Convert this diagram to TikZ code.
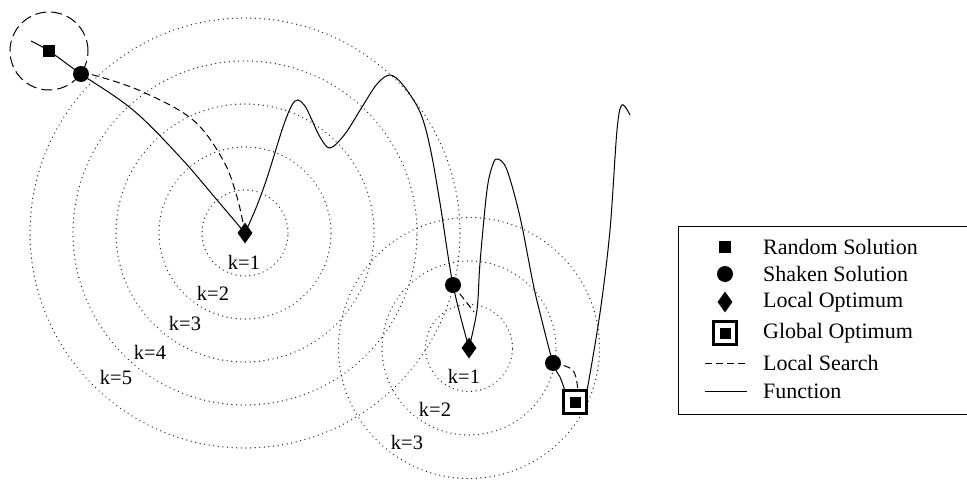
\documentclass[tikz,border=0pt]{standalone}
\usepackage{fontspec}
\setmainfont{Liberation Serif}
\usetikzlibrary{shapes.geometric}

\begin{document}
\begin{tikzpicture}[x=1pt,y=-1pt,
	ring/.style={black!85,line width=1.4pt,line cap=round,dash pattern=on 0.01pt off 4.6pt},
	fn/.style={line width=1pt},
	srch/.style={line width=1pt,dash pattern=on 7pt off 4pt},
	randsol/.style={rectangle,fill,inner sep=0pt,minimum size=12pt},
	shaken/.style={circle,fill,inner sep=0pt,minimum size=16pt},
	locopt/.style={diamond,fill,inner sep=0pt,minimum width=15pt,minimum height=21pt},
	globopt/.style={rectangle,draw,fill=white,line width=3pt,inner sep=0pt,minimum size=23pt},
	globin/.style={rectangle,fill,inner sep=0pt,minimum size=11pt},
	klabel/.style={font=\rmfamily\fontsize{20.5}{22}\selectfont,inner sep=0pt},
	legtext/.style={font=\rmfamily\fontsize{22}{24}\selectfont,anchor=west,inner sep=0pt}]
	\useasboundingbox (0,0) rectangle (967,487);
	% Punkter
	\coordinate (pr) at (49,51);
	\coordinate (ps1) at (81,74);
	\coordinate (pl1) at (245,233);
	\coordinate (ps2) at (453,285);
	\coordinate (pl2) at (469,348);
	\coordinate (ps3) at (553,363);
	\coordinate (pg) at (575,402);
	% Nabolag
	\draw[black,line width=1pt,dash pattern=on 11pt off 5pt] (pr) circle[radius=39pt];
	\foreach \k in {1,...,5}
		\draw[ring] (pl1) circle[radius=\k*43pt];
	\foreach \k in {1,...,3}
		\draw[ring] (pl2) circle[radius=\k*43.5pt];
	% Funksjon
	\draw[fn] plot[smooth,tension=0.6] coordinates {(31,41) (pr) (ps1) (133,110) (180,157) (217,200) (pl1)};
	\draw[fn] plot[smooth,tension=0.55] coordinates {(pl1) (256,208) (267,178) (283,127) (292,105) (298,100) (305,106) (311,118) (320,137) (330,148) (345,134) (362,107) (377,84) (390,75) (403,85) (420,112) (430,147) (440,203) (ps2) (pl2)};
	\draw[fn] plot[smooth,tension=0.55] coordinates {(pl2) (477,310) (480,263) (487,190) (493,164) (498,159) (507,170) (520,217) (533,283) (540,313) (ps3) (560,377) (565,391)};
	\draw[fn] plot[smooth,tension=0.55] coordinates {(587,391) (600,313) (610,230) (617,130) (622,105) (630,115)};
	% Lokalt sok
	\coordinate (e2) at (474,312);
	\draw[srch] plot[smooth,tension=0.6] coordinates {(ps1) (97,76) (143,92) (193,120) (223,160) (237,197) (pl1)};
	\draw[srch] (ps2) -- (e2);
	\draw[srch] (ps3) .. controls (575,368) .. (578,390);
	% Markorer
	\node[randsol] (r0) at (pr) {};
	\node[shaken] (s1) at (ps1) {};
	\node[shaken] (s2) at (ps2) {};
	\node[shaken] (s3) at (ps3) {};
	\node[locopt] (l1) at (pl1) {};
	\node[locopt] (l2) at (pl2) {};
	\node[globopt] (g) at (pg) {};
	\node[globin] (gi) at (pg) {};
	% Etiketter
	\node[klabel] (a1) at (244,262) {k=1};
	\node[klabel] (a2) at (213,293) {k=2};
	\node[klabel] (a3) at (185,323) {k=3};
	\node[klabel] (a4) at (150,352) {k=4};
	\node[klabel] (a5) at (116,377) {k=5};
	\node[klabel] (b1) at (464,376) {k=1};
	\node[klabel] (b2) at (435,409) {k=2};
	\node[klabel] (b3) at (407,442) {k=3};
	% Forklaring
	\node[draw,line width=1.2pt,anchor=north west,minimum width=310pt,minimum height=188pt,inner sep=0pt] (leg) at (678,226) {};
	\node[randsol] (lr) at (725,247) {};
	\node[shaken] (ls) at (725,274) {};
	\node[locopt] (ll) at (725,302) {};
	\node[globopt] (lg) at (725,333) {};
	\node[globin] (lgi) at (725,333) {};
	\coordinate (la) at (705,363);
	\coordinate (lb) at (747,363);
	\coordinate (lc) at (705,391);
	\coordinate (ld) at (747,391);
	\draw[srch] (la) -- (lb);
	\draw[fn] (lc) -- (ld);
	\node[legtext] (tr) at (763,247) {Random Solution};
	\node[legtext] (ts) at (763,274) {Shaken Solution};
	\node[legtext] (tl) at (763,302) {Local Optimum};
	\node[legtext] (tg) at (763,333) {Global Optimum};
	\node[legtext] (tsr) at (763,363) {Local Search};
	\node[legtext] (tf) at (763,391) {Function};
\end{tikzpicture}
\end{document}
